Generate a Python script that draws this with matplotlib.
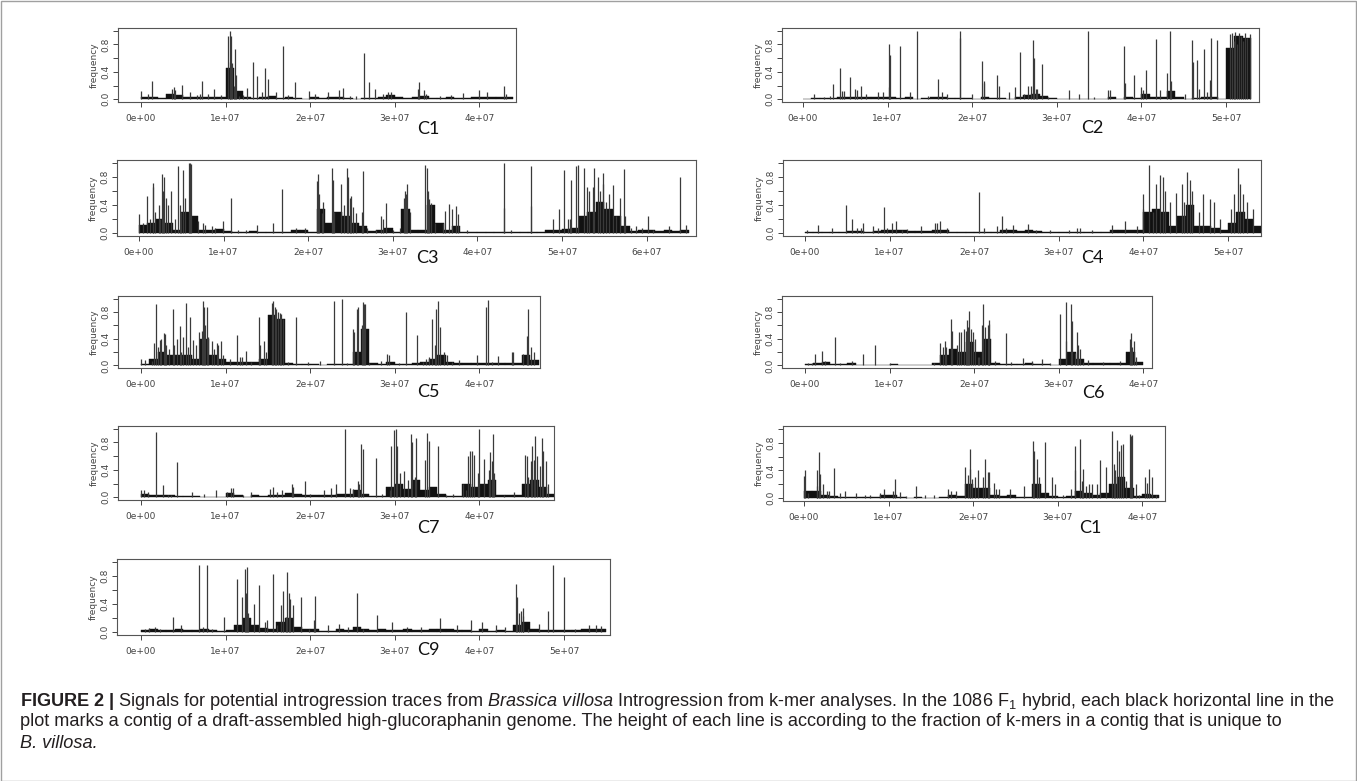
import numpy as np
import matplotlib
matplotlib.use("Agg")
import matplotlib.pyplot as plt
from matplotlib.patches import Rectangle

# contig spikes: (position in Mb, fraction of unique k-mers)
c1_spikes = [(0.04,0.12),(0.8,0.08),(1.34,0.26),(3.7,0.15),(3.85,0.18),(4.0,0.14),(4.8,0.21),(5.8,0.1),(6.6,0.06),
             (7.0,0.08),(7.2,0.26),(7.9,0.07),(8.6,0.15),(9.4,0.06),(10.28,0.92),(10.47,1.0),(10.55,0.55),(10.63,0.93),
             (10.75,0.53),(10.94,0.2),(11.1,0.74),(11.2,0.35),(11.6,0.05),(12.1,0.06),(12.5,0.16),(13.23,0.55),
             (13.74,0.34),(14.3,0.1),(14.6,0.46),(15.04,0.29),(15.9,0.1),(16.77,0.78),(17.4,0.06),(18.23,0.25),
             (19.8,0.12),(20.6,0.08),(22.1,0.11),(23.4,0.14),(23.86,0.16),(24.7,0.05),(25.4,0.05),(26.34,0.68),
             (27.0,0.25),(27.7,0.15),(28.6,0.08),(29.2,0.1),(29.6,0.1),(32.8,0.15),(32.9,0.25),(33.4,0.13),(33.7,0.08),
             (35.3,0.05),(36.7,0.06),(38.1,0.09),(40.0,0.13),(40.9,0.1),(42.9,0.2),(43.2,0.07)]
c2_spikes = [(1.26,0.07),(2.5,0.03),(3.2,0.05),(3.6,0.22),(4.4,0.45),(4.6,0.12),(4.9,0.12),(5.5,0.33),(6.2,0.15),
             (6.4,0.13),(6.9,0.2),(7.4,0.07),(8.9,0.1),(9.4,0.1),(10.13,0.81),(10.2,0.18),(10.3,0.65),(11.5,0.77),
             (12.6,0.1),(13.5,1.0),(14.8,0.05),(16.0,0.29),(16.4,0.1),(17.0,0.07),(18.5,1.0),(18.52,0.9),(20.0,0.07),
             (21.2,0.56),(21.35,0.24),(21.4,0.27),(22.9,0.36),(23.2,0.2),(24.4,0.1),(25.0,0.18),(25.6,0.69),(26.1,0.07),
             (26.6,0.2),(26.9,0.2),(27.2,0.86),(27.3,0.6),(27.5,0.15),(27.7,0.15),(28.2,0.51),(29.0,0.03),(31.4,0.14),
             (32.6,0.07),(33.7,1.0),(34.4,0.03),(36.1,0.14),(36.3,0.13),(38.0,0.77),(38.1,0.24),(39.1,0.36),(40.0,0.18),
             (40.2,0.13),(40.5,0.42),(41.7,0.88),(42.2,0.13),(43.0,0.38),(43.35,1.0),(43.5,0.27),(45.1,0.07),(46.0,0.86),
             (46.05,0.55),(46.6,0.57),(46.85,0.15),(47.4,0.74),(47.7,0.1),(48.1,0.28),(48.25,0.9),(48.9,0.86),
             (50.5,0.95),(50.7,0.97),(50.9,0.85),(51.1,0.98),(51.3,0.8),(51.5,0.97),(51.8,0.93),(52.0,0.85),(52.2,0.97),
             (52.5,0.9),(52.8,0.95)]
c3_spikes = [(0.05,0.27),(0.5,0.15),(0.9,0.53),(1.3,0.2),(1.6,0.65),(1.67,0.72),(1.9,0.3),(2.35,0.4),(2.5,0.2),
             (2.7,0.84),(2.8,0.6),(2.93,0.8),(3.15,0.5),(3.4,0.4),(3.84,0.6),(4.3,0.2),(4.65,0.95),(4.85,0.4),(4.95,0.3),
             (5.19,0.9),(5.4,0.5),(5.87,1.0),(6.0,1.0),(6.1,0.98),(7.0,0.18),(7.6,0.15),(7.85,0.12),(8.6,0.1),(9.0,0.08),
             (9.9,0.18),(10.83,0.5),(11.7,0.05),(12.6,0.05),(14.0,0.12),(15.8,0.15),(16.9,0.63),(18.5,0.07),(19.6,0.08),
             (21.0,0.74),(21.2,0.84),(21.3,0.55),(21.6,0.28),(21.7,0.45),(22.8,0.92),(22.95,0.75),(23.1,0.3),(23.9,0.7),
             (24.2,0.4),(24.6,0.93),(24.7,0.8),(24.9,0.5),(25.1,0.53),(25.35,0.37),(25.7,0.28),(26.4,0.3),(26.5,0.88),
             (27.0,0.08),(28.0,0.05),(28.65,0.25),(28.9,0.2),(29.2,0.43),(30.0,0.05),(30.9,0.07),(31.35,0.5),(31.45,0.6),
             (31.6,0.55),(31.7,0.7),(32.0,0.3),(33.85,0.97),(34.05,0.92),(34.15,0.6),(34.3,0.48),(34.5,0.43),(35.0,0.15),
             (35.9,0.15),(36.2,0.32),(36.6,0.41),(37.0,0.35),(37.5,0.38),(37.7,0.27),(38.8,0.05),(43.15,0.36),(43.2,1.0),
             (44.0,0.05),(46.3,0.95),(46.35,0.38),(48.9,0.2),(49.7,0.35),(50.2,0.9),(50.7,0.2),(50.9,0.2),(51.06,0.76),
             (51.7,0.95),(51.85,0.97),(52.6,0.93),(52.9,0.65),(53.2,0.6),(53.7,0.65),(53.8,0.93),(54.2,0.8),(54.5,0.6),
             (54.8,0.7),(54.9,0.85),(55.2,0.45),(55.6,0.55),(56.0,0.68),(56.4,0.25),(56.9,0.5),(57.3,0.91),(57.5,0.25),
             (58.2,0.08),(58.8,0.1),(59.4,0.08),(60.2,0.24),(60.8,0.05),(62.6,0.1),(63.9,0.8),(64.7,0.12)]
c4_spikes = [(0.2,0.05),(1.5,0.12),(3.2,0.08),(4.9,0.4),(5.6,0.2),(6.2,0.08),(6.6,0.07),(6.9,0.14),(8.0,0.1),(8.6,0.08),
             (9.3,0.37),(9.7,0.08),(10.3,0.14),(10.8,0.18),(11.5,0.05),(12.1,0.06),(13.7,0.1),(15.4,0.15),(15.6,0.15),
             (16.0,0.18),(16.8,0.08),(20.6,0.58),(21.1,0.08),(22.7,0.1),(23.3,0.25),(23.8,0.08),(24.6,0.12),(26.4,0.13),
             (27.3,0.05),(29.0,0.05),(31.2,0.05),(32.1,0.08),(32.5,0.08),(33.9,0.04),(36.3,0.12),(37.8,0.17),(39.3,0.1),
             (39.9,0.35),(40.0,0.55),(40.66,0.97),(41.1,0.3),(41.5,0.7),(41.97,0.82),(42.3,0.8),(42.6,0.6),(43.1,0.45),
             (43.9,0.57),(44.6,0.7),(44.8,0.45),(45.2,0.87),(45.5,0.75),(45.8,0.6),(46.6,0.3),(47.0,0.55),(47.9,0.48),
             (48.3,0.45),(49.0,0.2),(50.3,0.35),(50.7,0.55),(51.2,0.93),(51.4,0.7),(51.8,0.55),(52.3,0.45),(52.9,0.35)]
c5_spikes = [(0.04,0.1),(0.5,0.08),(1.3,0.07),(1.5,0.33),(1.76,0.92),(2.0,0.28),(2.27,0.38),(2.4,0.4),(2.67,0.49),
             (2.86,0.47),(3.0,0.3),(3.27,0.25),(3.73,0.85),(3.9,0.3),(4.24,0.4),(4.63,0.59),(4.75,0.2),(5.0,0.42),
             (5.29,0.93),(5.5,0.28),(5.8,0.73),(6.2,0.38),(6.5,0.3),(6.86,0.5),(7.18,0.52),(7.29,0.97),(7.45,0.88),
             (7.6,0.6),(7.76,0.88),(7.9,0.42),(8.35,0.36),(8.65,0.25),(8.94,0.34),(9.15,0.3),(9.5,0.37),(9.7,0.15),
             (10.5,0.1),(11.37,0.46),(11.7,0.13),(11.9,0.12),(12.4,0.22),(13.05,0.05),(13.9,0.72),(14.1,0.3),(14.5,0.36),
             (14.8,0.2),(15.5,0.93),(15.6,0.97),(15.8,0.88),(16.0,0.85),(16.2,0.8),(16.4,0.78),(16.6,0.77),(16.8,0.7),
             (17.4,0.05),(18.35,0.73),(19.7,0.05),(21.1,0.06),(22.8,0.96),(23.8,1.0),(24.3,0.03),(25.0,0.55),(25.2,0.5),
             (25.5,0.85),(25.7,0.88),(26.1,0.6),(26.2,0.95),(26.4,0.92),(26.5,0.92),(27.0,0.03),(28.4,0.06),(29.1,0.17),
             (29.3,0.15),(30.5,0.03),(31.37,0.8),(32.6,0.45),(33.3,0.05),(33.7,0.1),(34.05,0.12),(34.35,0.69),(34.7,0.3),
             (34.9,0.85),(35.1,0.97),(35.4,0.58),(35.8,0.2),(36.2,0.15),(36.8,0.05),(37.6,0.08),(39.7,0.15),(40.8,0.88),
             (41.0,0.98),(41.5,0.05),(42.2,0.14),(43.8,0.2),(44.0,0.2),(45.1,0.17),(45.6,0.44),(45.8,0.85),(46.1,0.27),
             (46.4,0.2)]
c6_spikes = [(0.3,0.03),(0.8,0.03),(1.2,0.17),(2.0,0.22),(2.4,0.07),(3.5,0.43),(4.1,0.03),(5.5,0.06),(6.9,0.17),
             (8.3,0.31),(10.1,0.03),(12.6,0.01),(15.3,0.03),(16.0,0.34),(16.3,0.28),(16.5,0.36),(16.7,0.28),(17.2,0.69),
             (17.4,0.52),(18.0,0.3),(18.2,0.5),(18.4,0.5),(18.8,0.54),(19.0,0.52),(19.1,0.68),(19.3,0.58),(19.4,0.81),
             (19.6,0.55),(19.9,0.5),(20.1,0.4),(20.5,0.12),(20.6,0.13),(20.9,0.6),(21.06,0.92),(21.3,0.58),(21.6,0.6),
             (21.7,0.62),(21.8,0.68),(22.5,0.07),(23.7,0.48),(24.4,0.05),(25.8,0.11),(26.8,0.06),(28.0,0.1),(29.0,0.03),
             (30.1,0.77),(30.8,0.95),(30.85,0.37),(31.4,0.92),(31.6,0.67),(31.9,0.18),(32.2,0.5),(32.3,0.3),(32.5,0.25),
             (32.9,0.05),(33.5,0.08),(35.2,0.05),(37.2,0.06),(38.4,0.4),(38.5,0.48),(38.7,0.27),(38.9,0.36),(39.1,0.12)]
c7_spikes = [(0.04,0.1),(0.3,0.11),(0.8,0.07),(1.8,0.95),(2.6,0.18),(3.2,0.04),(3.6,0.04),(4.2,0.52),(6.0,0.08),
             (7.5,0.05),(8.9,0.1),(10.2,0.08),(10.6,0.13),(10.9,0.14),(12.1,0.03),(13.0,0.07),(15.3,0.12),(15.55,0.15),
             (16.1,0.08),(16.7,0.1),(17.8,0.2),(18.0,0.15),(19.4,0.24),(20.0,0.05),(21.6,0.11),(22.4,0.14),(23.0,0.19),
             (24.1,1.0),(24.7,0.13),(25.1,0.12),(25.7,0.23),(25.8,0.2),(26.0,0.78),(26.2,0.7),(27.8,0.57),(28.5,0.05),
             (29.4,0.1),(29.6,0.75),(29.9,0.98),(30.15,0.99),(30.3,0.75),(30.6,0.35),(31.1,0.38),(31.6,0.25),(31.9,0.93),
             (32.0,0.8),(32.4,0.3),(32.5,0.87),(33.6,0.55),(33.8,0.94),(34.1,0.82),(35.1,0.75),(36.1,0.03),(36.9,0.05),
             (38.1,0.2),(38.4,0.1),(38.7,0.6),(38.9,0.68),(39.1,0.68),(39.4,0.62),(39.8,0.35),(40.0,1.0),(40.5,0.56),
             (41.1,0.4),(41.2,0.66),(41.5,0.53),(41.65,0.93),(41.75,0.35),(42.9,0.04),(44.1,0.08),(45.4,0.62),(45.6,0.6),
             (45.8,0.3),(46.1,0.53),(46.2,0.75),(46.4,0.55),(46.6,0.9),(46.8,0.6),(47.2,0.45),(47.4,0.87),(47.5,0.67),
             (47.9,0.53),(48.1,0.2)]
c1b_spikes = [(0.0,0.32),(0.1,0.4),(0.5,0.08),(1.5,0.41),(1.55,0.17),(1.8,0.67),(1.95,0.35),(2.2,0.2),(2.7,0.1),
              (3.0,0.1),(3.5,0.44),(4.2,0.07),(4.8,0.11),(6.2,0.08),(7.2,0.05),(7.8,0.05),(9.0,0.08),(9.5,0.13),
              (10.5,0.1),(10.7,0.28),(11.4,0.09),(12.1,0.03),(13.2,0.18),(14.3,0.05),(15.4,0.05),(17.0,0.13),(17.4,0.1),
              (18.0,0.1),(19.0,0.45),(19.4,0.33),(19.6,0.71),(19.65,0.42),(19.9,0.27),(20.2,0.3),(20.6,0.4),(21.1,0.3),
              (21.45,0.57),(21.7,0.38),(21.9,0.38),(22.4,0.22),(22.7,0.13),(23.1,0.13),(24.3,0.13),(26.0,0.18),
              (27.1,0.82),(27.2,0.68),(27.6,0.56),(27.8,0.31),(28.45,0.81),(29.3,0.3),(29.7,0.21),(30.6,0.05),
              (31.55,0.14),(32.0,0.75),(32.05,0.4),(32.6,0.85),(32.9,0.25),(33.0,0.42),(33.3,0.18),(33.7,0.2),(34.1,0.2),
              (34.6,0.2),(35.0,0.55),(35.7,0.45),(36.4,0.97),(36.6,0.5),(36.8,0.4),(37.05,0.84),(37.25,0.68),
              (37.45,0.76),(37.65,0.78),(38.1,0.25),(38.5,0.93),(38.6,0.9),(38.8,0.91),(39.3,0.2),(39.6,0.05),
              (40.3,0.3),(40.6,0.22),(40.8,0.42),(41.1,0.3),(41.6,0.04)]
c9_spikes = [(0.5,0.05),(1.0,0.06),(1.6,0.07),(2.3,0.05),(3.8,0.22),(4.7,0.1),(6.8,0.95),(7.3,0.08),(7.8,0.96),
             (8.4,0.05),(9.8,0.22),(11.4,0.75),(11.9,0.5),(12.35,0.9),(12.45,0.55),(12.56,0.92),(12.7,0.27),(13.4,0.4),
             (14.0,0.67),(14.6,0.15),(14.9,0.17),(15.6,0.83),(16.1,0.1),(16.6,0.38),(16.8,0.59),(17.1,0.22),(17.3,0.85),
             (17.55,0.56),(17.6,0.47),(18.0,0.39),(18.9,0.5),(19.8,0.05),(20.5,0.17),(20.6,0.52),(22.1,0.1),(23.4,0.12),
             (24.5,0.08),(25.5,0.55),(26.3,0.05),(27.9,0.24),(29.7,0.15),(31.4,0.08),(33.1,0.07),(35.4,0.2),(37.3,0.1),
             (39.0,0.18),(40.3,0.14),(42.0,0.1),(43.0,0.08),(44.3,0.68),(44.5,0.5),(44.7,0.27),(44.9,0.3),(45.1,0.35),
             (45.2,0.23),(45.8,0.05),(47.0,0.12),(48.1,0.3),(48.65,0.95),(50.0,0.78),(51.3,0.05),(53.0,0.1),(53.8,0.1),
             (54.4,0.09)]

# dense background of short contigs, typical level per 1 Mb window
c1_floor = [0.04,0.03,0.02,0.08,0.06,0.03,0.03,0.04,0.03,0.03, 0.45,0.12,0.03,0.02,0.04,0.05,0.02,0.04,0.02,0.01,
            0.03,0.02,0.03,0.04,0.02,0.01,0.02,0.02,0.03,0.06, 0.03,0.02,0.03,0.05,0.02,0.02,0.03,0.02,0.02,0.03,
            0.03,0.03,0.04,0.04]
c2_floor = [0.0,0.02,0.02,0.02,0.04,0.04,0.04,0.04,0.03,0.04, 0.03,0.02,0.03,0.01,0.02,0.03,0.04,0.02,0.02,0.02,
            0.01,0.04,0.02,0.02,0.01,0.04,0.06,0.08,0.05,0.02, 0.01,0.01,0.01,0.01,0.01,0.01,0.03,0.01,0.03,0.02,
            0.08,0.04,0.03,0.12,0.03,0.01,0.02,0.03,0.04,0.01, 0.75,0.92,0.9]
c3_floor = [0.12,0.15,0.2,0.15,0.05,0.3,0.25,0.04,0.05,0.06, 0.03,0.02,0.02,0.03,0.02,0.01,0.01,0.02,0.04,0.04,
            0.02,0.35,0.15,0.3,0.25,0.15,0.1,0.03,0.04,0.08, 0.02,0.35,0.05,0.04,0.4,0.15,0.05,0.1,0.02,0.01,
            0.01,0.01,0.01,0.01,0.01,0.01,0.01,0.02,0.05,0.05, 0.06,0.08,0.25,0.3,0.45,0.35,0.25,0.1,0.03,0.04,
            0.05,0.03,0.04,0.03,0.05]
c4_floor = [0.01,0.01,0.01,0.01,0.02,0.03,0.03,0.02,0.03,0.04, 0.05,0.04,0.03,0.03,0.03,0.05,0.04,0.01,0.01,0.01,
            0.01,0.01,0.02,0.05,0.04,0.03,0.04,0.03,0.02,0.02, 0.01,0.01,0.02,0.02,0.02,0.02,0.04,0.04,0.05,0.05,
            0.3,0.35,0.3,0.1,0.25,0.4,0.1,0.1,0.08,0.05, 0.15,0.3,0.2,0.1]
c5_floor = [0.02,0.1,0.2,0.15,0.15,0.15,0.1,0.4,0.15,0.1, 0.05,0.05,0.05,0.05,0.1,0.75,0.7,0.03,0.02,0.02,
            0.02,0.01,0.02,0.02,0.02,0.2,0.55,0.03,0.02,0.05, 0.02,0.02,0.03,0.05,0.1,0.15,0.05,0.04,0.03,0.04,
            0.03,0.03,0.03,0.04,0.03,0.15,0.08]
c6_floor = [0.02,0.04,0.05,0.02,0.02,0.03,0.01,0.01,0.01,0.01, 0.02,0.01,0.01,0.01,0.01,0.03,0.15,0.25,0.2,0.35,
            0.2,0.4,0.03,0.02,0.02,0.02,0.03,0.02,0.02,0.01, 0.1,0.2,0.1,0.03,0.03,0.03,0.03,0.03,0.2,0.05]
c7_floor = [0.05,0.04,0.04,0.03,0.02,0.02,0.02,0.01,0.01,0.01, 0.06,0.03,0.01,0.03,0.02,0.04,0.04,0.06,0.05,0.04,
            0.03,0.03,0.04,0.05,0.05,0.1,0.05,0.02,0.02,0.15, 0.2,0.12,0.25,0.1,0.15,0.05,0.02,0.02,0.2,0.15,
            0.2,0.25,0.03,0.03,0.04,0.2,0.25,0.15,0.05]
c1b_floor = [0.1,0.1,0.05,0.03,0.02,0.02,0.02,0.02,0.02,0.04, 0.05,0.02,0.01,0.02,0.01,0.01,0.02,0.04,0.03,0.2,
             0.15,0.15,0.05,0.03,0.04,0.02,0.02,0.2,0.08,0.03, 0.02,0.03,0.1,0.08,0.05,0.08,0.2,0.3,0.15,0.03,
             0.06,0.04]
c9_floor = [0.03,0.04,0.03,0.03,0.04,0.03,0.03,0.04,0.03,0.02, 0.03,0.1,0.2,0.1,0.06,0.05,0.15,0.2,0.08,0.04,
            0.04,0.02,0.02,0.04,0.03,0.08,0.05,0.03,0.04,0.03, 0.03,0.04,0.03,0.03,0.04,0.04,0.05,0.03,0.03,0.02,
            0.04,0.02,0.03,0.02,0.1,0.15,0.05,0.03,0.03,0.03, 0.03,0.03,0.04,0.04,0.04]

panel_names = ["C1", "C2", "C3", "C4", "C5", "C6", "C7", "C1", "C9"]

W, H = 1357, 781
PX_PER_MB = 8.46

# pixel boxes: (left, top, right, bottom), pixel of x=0, label centre
layout = [
    ((118, 28, 516, 102), 141, (428, 129)),
    ((782, 28, 1259, 102), 803, (1092, 128)),
    ((117, 160, 696, 236), 139, (427, 258)),
    ((783, 160, 1261, 236), 805, (1092, 258)),
    ((118, 296, 540, 368), 141, (428, 392)),
    ((782, 296, 1152, 368), 805, (1093, 393)),
    ((118, 426, 554, 500), 141, (428, 528)),
    ((783, 426, 1165, 501), 804, (1090, 528)),
    ((117, 559, 610, 635), 141, (428, 650)),
]
spikes = [c1_spikes, c2_spikes, c3_spikes, c4_spikes, c5_spikes, c6_spikes, c7_spikes, c1b_spikes, c9_spikes]
floors = [c1_floor, c2_floor, c3_floor, c4_floor, c5_floor, c6_floor, c7_floor, c1b_floor, c9_floor]

plt.rcParams['mathtext.fontset'] = 'custom'
plt.rcParams['mathtext.rm'] = 'Liberation Sans'
plt.rcParams['mathtext.it'] = 'Liberation Sans:italic'
plt.rcParams['mathtext.bf'] = 'Liberation Sans:bold'

fig = plt.figure(figsize=(W / 100, H / 100), dpi=100)
tick_col = '#444444'

for name, sp, fl, (box, x0, lab) in zip(panel_names, spikes, floors, layout):
    l, t, r, b = box
    ax = fig.add_axes([l / W, 1 - b / H, (r - l) / W, (b - t) / H])
    pos = np.array([p for p, f in sp])
    freq = np.array([f for p, f in sp])
    ax.bar(np.arange(len(fl)), fl, width=1.0, align='edge', color='#111111',
           edgecolor='#111111', linewidth=0.3)
    ax.vlines(pos, 0, freq, colors='#3a3a3a', linewidth=0.9)
    xmin, xmax = (l - x0) / PX_PER_MB, (r - x0) / PX_PER_MB
    ax.set_xlim(xmin, xmax)
    ax.set_ylim(-0.04, 1.04)
    xt = [v for v in range(0, 70, 10) if v <= xmax]
    ax.set_xticks(xt)
    ax.set_xticklabels(['0e+00' if v == 0 else '%de+07' % (v // 10) for v in xt])
    ax.set_yticks([0, 0.2, 0.4, 0.6, 0.8, 1.0])
    ax.set_yticklabels(['0.0', '', '0.4', '', '0.8', ''], rotation=90, va='center')
    ax.tick_params(length=3.5, width=0.7, color=tick_col, labelsize=6.5, labelcolor=tick_col, pad=2)
    ax.tick_params(axis='x', pad=5)
    ax.set_ylabel('frequency', fontsize=6.5, color=tick_col, labelpad=2)
    for s in ax.spines.values():
        s.set_color('#555555')
        s.set_linewidth(0.8)
    fig.text(lab[0] / W, 1 - lab[1] / H, name, fontsize=13, family='Lato',
             ha='center', va='center', color='#111111')

# frame around the figure
fig.add_artist(Rectangle((0.5 / W, 0.5 / H), 1 - 1.5 / W, 1 - 1.5 / H, transform=fig.transFigure,
                         fill=False, edgecolor='#a0a0a0', linewidth=1))

cap = [
    r"$\mathbf{FIGURE\ 2\ |}$ Signals for potential introgression traces from $\mathit{Brassica\ villosa}$ "
    r"Introgression from k-mer analyses. In the 1086 $\mathrm{F}_1$ hybrid, each black horizontal line in the",
    "plot marks a contig of a draft-assembled high-glucoraphanin genome. The height of each line is according "
    "to the fraction of k-mers in a contig that is unique to",
]
for i, line in enumerate(cap):
    fig.text(20 / W, 1 - (701 + 21 * i) / H, line, fontsize=13.1, family='Liberation Sans',
             color='#231f20', ha='left', va='center')
fig.text(20 / W, 1 - 743 / H, "B. villosa.", fontsize=13.1, family='Liberation Sans', style='italic',
         color='#231f20', ha='left', va='center')

fig.savefig('out.png', dpi=100)
